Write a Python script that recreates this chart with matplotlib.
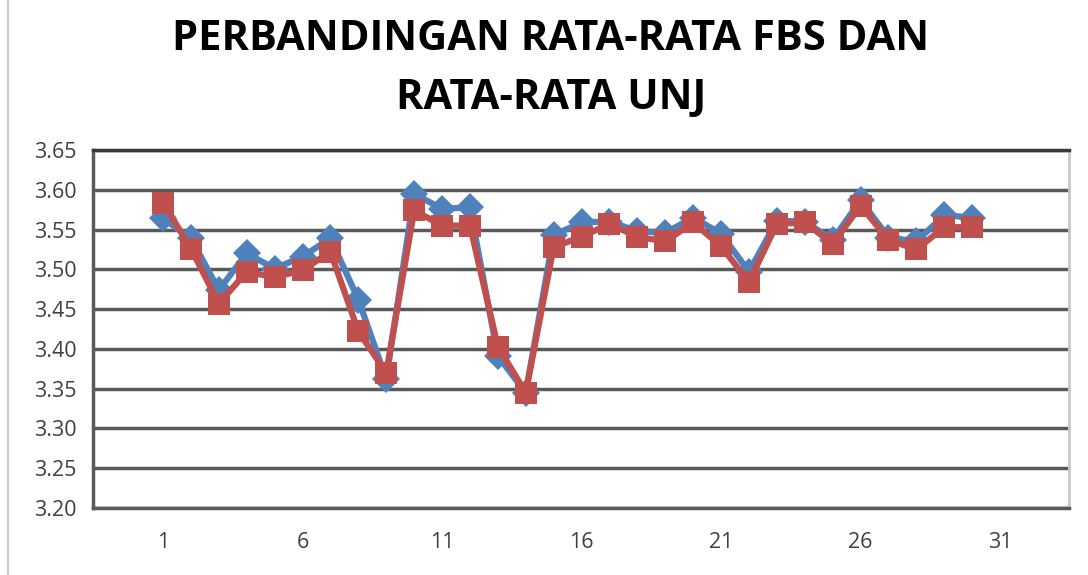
import matplotlib
matplotlib.use("Agg")
import matplotlib.pyplot as plt
from matplotlib.lines import Line2D

title = "PERBANDINGAN RATA-RATA FBS DAN\nRATA-RATA UNJ"
x = list(range(1, 31))
fbs = [3.564, 3.539, 3.474, 3.520, 3.501, 3.516, 3.539, 3.462, 3.362, 3.595,
       3.576, 3.578, 3.391, 3.345, 3.543, 3.559, 3.560, 3.548, 3.546, 3.565,
       3.545, 3.497, 3.561, 3.560, 3.537, 3.587, 3.540, 3.535, 3.568, 3.565]
unj = [3.584, 3.526, 3.457, 3.497, 3.490, 3.499, 3.522, 3.422, 3.370, 3.574,
       3.555, 3.555, 3.403, 3.345, 3.528, 3.541, 3.557, 3.541, 3.535, 3.559,
       3.529, 3.484, 3.557, 3.559, 3.532, 3.580, 3.537, 3.525, 3.553, 3.553]
yticks = [3.20, 3.25, 3.30, 3.35, 3.40, 3.45, 3.50, 3.55, 3.60, 3.65]
xticks = [1, 6, 11, 16, 21, 26, 31]

plt.rcParams['font.family'] = ['Open Sans', 'DejaVu Sans']

W, H = 1088, 575
fig = plt.figure(figsize=(W / 100, H / 100), dpi=100)
ax = fig.add_axes([93 / W, 1 - 508 / H, (1069 - 93) / W, (508 - 150) / H])

ax.plot(x, fbs, color='#4F81BD', lw=4.5, marker='D', markersize=14,
        markeredgewidth=0, zorder=3)
ax.plot(x, unj, color='#C0504D', lw=4.5, marker='s', markersize=16,
        markeredgewidth=0, zorder=4)

ax.set_ylim(3.20, 3.65)
ax.set_xlim(-1.51, 33.47)
ax.set_yticks(yticks)
ax.set_yticklabels([f"{v:.2f}" for v in yticks])
ax.set_xticks(xticks)
ax.set_xticklabels([str(v) for v in xticks])
ax.tick_params(axis='both', length=0, labelsize=15.5, colors='#404040')
ax.tick_params(axis='y', pad=12)
ax.tick_params(axis='x', pad=17)
for lbl in ax.get_xticklabels() + ax.get_yticklabels():
    lbl.set_color('#404040')

ax.grid(axis='y', color='#5a5a5a', lw=2.5, zorder=1)
ax.set_axisbelow(True)
for s in ['left', 'bottom']:
    ax.spines[s].set_color('#5a5a5a')
    ax.spines[s].set_linewidth(2.5)
ax.spines['top'].set_color('#3a3a3a')
ax.spines['top'].set_linewidth(2.5)
ax.spines['right'].set_color('#c8c8c8')
ax.spines['right'].set_linewidth(2)

fig.text(551 / W, 1 - 69 / H, title, ha='center', va='center',
         fontsize=30, fontweight='bold', color='#000000', linespacing=1.55)

fig.add_artist(Line2D([8 / W, 8 / W], [0, 1], color='#c8c8c8', lw=1.5))

fig.savefig('out.png', dpi=100)
